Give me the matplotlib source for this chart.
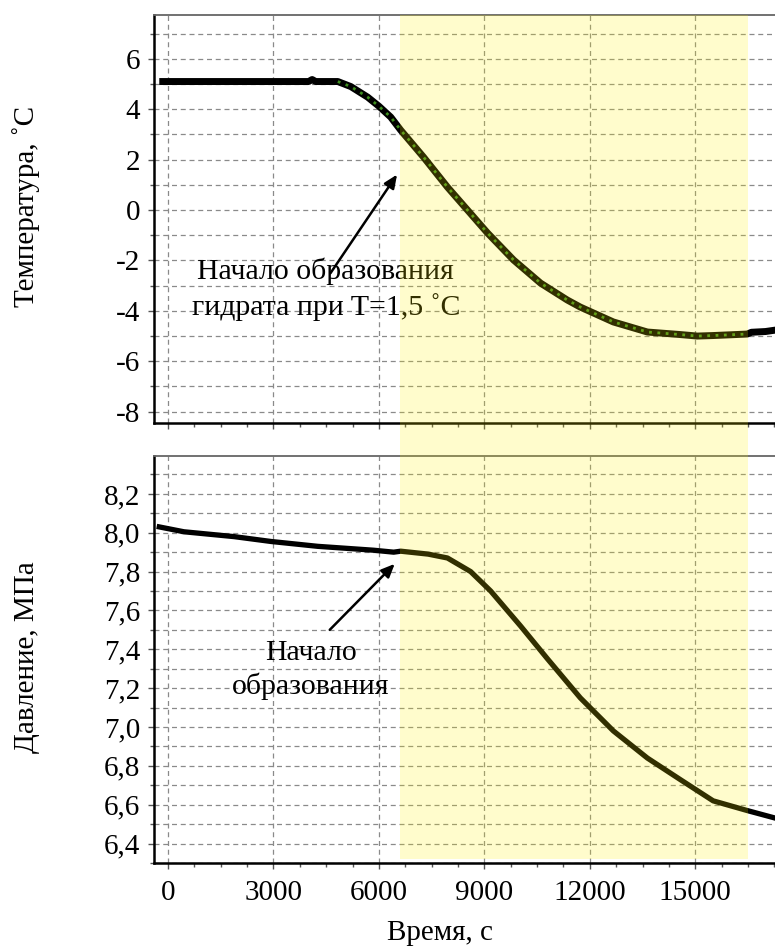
import numpy as np
import matplotlib
matplotlib.use("Agg")
import matplotlib.pyplot as plt
from matplotlib.patches import Rectangle
from matplotlib.transforms import blended_transform_factory
from matplotlib.ticker import MultipleLocator, FuncFormatter

plt.rcParams['font.family'] = ['Liberation Serif', 'DejaVu Serif']
plt.rcParams['axes.unicode_minus'] = False

# Temperature curve (time in s, temperature in C)
time_T = [-250, 1000, 2000, 3000, 4000, 4100, 4200, 4830, 5200, 5680, 6000, 6335,
          6620, 7270, 7950, 8520, 9090, 9830, 10600, 11360, 11730, 12670, 13640,
          14570, 15060, 15500, 16000, 16480, 16600, 17000, 17300]
temp = [5.1, 5.1, 5.1, 5.1, 5.1, 5.18, 5.1, 5.1, 4.9, 4.48, 4.12, 3.69,
        3.17, 2.10, 0.91, 0.0, -0.91, -1.98, -2.90, -3.57, -3.85, -4.44, -4.84,
        -4.94, -5.0, -4.98, -4.95, -4.92, -4.85, -4.82, -4.76]

# Pressure curve (time in s, pressure in MPa)
time_P = [-250, 450, 1880, 2930, 4260, 5850, 6420, 6620, 7400, 7950, 8610, 9180,
          10030, 10800, 11730, 12670, 13640, 14570, 15510, 16480, 17300]
pres = [8.03, 8.005, 7.98, 7.955, 7.93, 7.91, 7.90, 7.905, 7.89, 7.87, 7.80, 7.70,
        7.52, 7.35, 7.15, 6.98, 6.84, 6.73, 6.62, 6.57, 6.53]

# hydrate formation interval
hydrate_start = 6600
hydrate_end = 16500

x_ticks = [0, 3000, 6000, 9000, 12000, 15000]
xmin, xmax = -400, 17270

fig = plt.figure(figsize=(7.75, 9.46), dpi=100)
ax1 = fig.add_axes([154 / 775, 1 - 423 / 946, 621 / 775, 408 / 946])
ax2 = fig.add_axes([154 / 775, 1 - 863 / 946, 621 / 775, 407 / 946])

grid_kw = dict(color='#8a8a8a', linestyle=(0, (4, 3)), linewidth=0.9)

for ax in (ax1, ax2):
    ax.set_xlim(xmin, xmax)
    ax.set_xticks(x_ticks)
    ax.xaxis.set_minor_locator(MultipleLocator(750))
    ax.grid(True, which='major', axis='x', **grid_kw)
    ax.grid(True, which='both', axis='y', **grid_kw)
    ax.spines['right'].set_visible(False)
    ax.spines['top'].set_color('#666666')
    ax.spines['top'].set_linewidth(1.3)
    for s in ('left', 'bottom'):
        ax.spines[s].set_linewidth(1.8)
        ax.spines[s].set_color('black')
    ax.tick_params(which='major', direction='out', length=4, width=1, color='#555555',
                   labelsize=21, pad=6)
    ax.tick_params(which='minor', direction='out', length=3, width=1, color='#555555')
    ax.tick_params(axis='x', pad=8)
    ax.set_axisbelow(True)

# top panel: temperature
ax1.plot(time_T, temp, color='black', linewidth=5, solid_capstyle='butt', zorder=3)
ax1.plot(time_T[7:28], temp[7:28], color='#3c8c1e', linewidth=2,
         linestyle=(0, (1, 2)), zorder=4)
ax1.set_ylim(-8.45, 7.74)
ax1.set_yticks(np.arange(-8, 7, 2))
ax1.yaxis.set_minor_locator(MultipleLocator(1))
ax1.tick_params(axis='x', labelbottom=False)
ax1.set_ylabel('Температура, ˚C', fontsize=21)
ax1.yaxis.set_label_coords(-0.184, 0.532)
ax1.annotate('', xy=(6560, 1.5), xytext=(4575, -2.6),
             arrowprops=dict(arrowstyle='-|>,head_length=0.8,head_width=0.35',
                             color='black', lw=1.8), zorder=5)
ax1.text(4490, -3.13, 'Начало образования\nгидрата при T=1,5 ˚C', fontsize=21.5,
         ha='center', va='center', multialignment='center', linespacing=1.35,
         zorder=5)

# bottom panel: pressure
ax2.plot(time_P, pres, color='black', linewidth=3.8, zorder=3)
ax2.set_ylim(6.30, 8.395)
ax2.set_yticks(np.arange(6.4, 8.21, 0.2))
ax2.yaxis.set_minor_locator(MultipleLocator(0.1))
ax2.yaxis.set_major_formatter(FuncFormatter(lambda v, p: f'{v:.1f}'.replace('.', ',')))
ax2.set_ylabel('Давление, МПа', fontsize=21)
ax2.yaxis.set_label_coords(-0.184, 0.506)
ax2.set_xlabel('Время, с', fontsize=21)
ax2.xaxis.set_label_coords(0.46, -0.14)
ax2.annotate('', xy=(6505, 7.85), xytext=(4545, 7.49),
             arrowprops=dict(arrowstyle='-|>,head_length=0.8,head_width=0.35',
                             color='black', lw=1.8), zorder=5)
ax2.text(4060, 7.295, 'Начало\nобразования', fontsize=21.5,
         ha='center', va='center', multialignment='center', linespacing=1.3,
         zorder=5)

# translucent yellow band across both panels
trans = blended_transform_factory(ax2.transData, fig.transFigure)
band = Rectangle((hydrate_start, 1 - 859 / 946), hydrate_end - hydrate_start,
                 (859 - 15) / 946, transform=trans, facecolor=(1.0, 0.94, 0.0),
                 alpha=0.2, edgecolor='none', zorder=10)
fig.add_artist(band)

fig.savefig('out.png', dpi=100)
